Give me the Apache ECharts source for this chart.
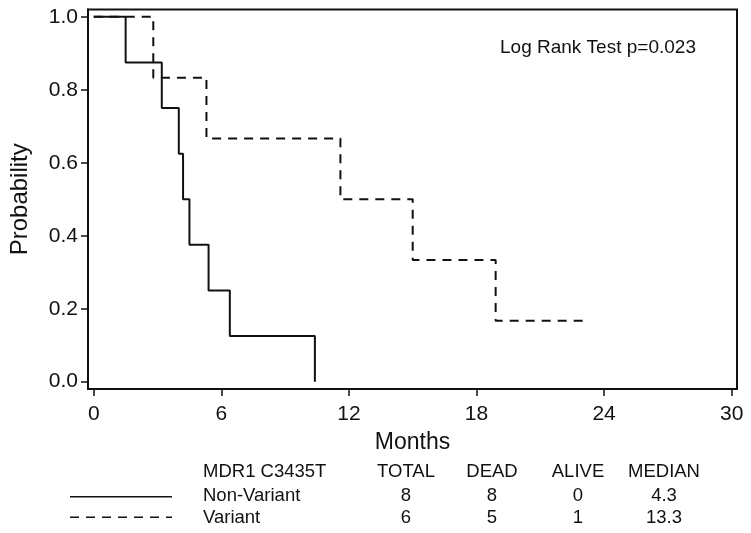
<!DOCTYPE html>
<html>
<head>
<meta charset="utf-8">
<script src="https://cdn.jsdelivr.net/npm/echarts@6/dist/echarts.min.js"></script>
<style>
html,body{margin:0;padding:0;background:#fff;}
#chart{width:751px;height:533px;}
</style>
</head>
<body>
<div id="chart"></div>
<script>
// ---- data ----
var nonVariantTimes = [0, 1.5, 3.2, 4.0, 4.2, 4.5, 5.4, 6.4, 10.4];
var nonVariantSurv  = [1, 0.875, 0.75, 0.625, 0.5, 0.375, 0.25, 0.125, 0];
var variantTimes = [0, 2.8, 5.3, 11.6, 15.0, 18.9, 23.0];
var variantSurv  = [1, 0.8333, 0.6667, 0.5, 0.3333, 0.1667, 0.1667];
var xTicks = [0, 6, 12, 18, 24, 30];
var yTicks = [0, 0.2, 0.4, 0.6, 0.8, 1.0];
var tableHeader = ['MDR1 C3435T', 'TOTAL', 'DEAD', 'ALIVE', 'MEDIAN'];
var groupNames = ['Non-Variant', 'Variant'];
var totals = [8, 6];
var deaths = [8, 5];
var alive = [0, 1];
var medians = ['4.3', '13.3'];
var pValueText = 'Log Rank Test p=0.023';

function pairs(t, s) { return t.map(function (v, i) { return [v, s[i]]; }); }

var FONT = '"Liberation Sans", Arial, Helvetica, sans-serif';
var INK = '#111';

// table layout
var colX = [203, 406, 492, 578, 664];
var rowY = [471.5, 495.5, 518];
var sampleX = [70, 172];
var sampleY = [496.7, 517.3];
var dashes = [null, [9, 7]];

var graphics = [];
tableHeader.forEach(function (h, c) {
  graphics.push({
    type: 'text', x: colX[c], y: rowY[0],
    style: { text: h, font: '18.5px ' + FONT, fill: INK,
      align: c === 0 ? 'left' : 'center', verticalAlign: 'middle' }
  });
});
groupNames.forEach(function (g, r) {
  var vals = [g, String(totals[r]), String(deaths[r]), String(alive[r]), medians[r]];
  vals.forEach(function (v, c) {
    graphics.push({
      type: 'text', x: colX[c], y: rowY[r + 1],
      style: { text: v, font: '18.5px ' + FONT, fill: INK,
        align: c === 0 ? 'left' : 'center', verticalAlign: 'middle' }
    });
  });
  graphics.push({
    type: 'line',
    shape: { x1: sampleX[0], y1: sampleY[r], x2: sampleX[1], y2: sampleY[r] },
    style: { stroke: INK, lineWidth: 1.5, lineDash: dashes[r] }
  });
});
graphics.push({
  type: 'text', x: 500, y: 47.5,
  style: { text: pValueText, font: '19px ' + FONT, fill: INK,
    align: 'left', verticalAlign: 'middle' }
});

var chart = echarts.init(document.getElementById('chart'), null, { renderer: 'canvas' });
chart.setOption({
  animation: false,
  backgroundColor: '#fff',
  grid: { left: 86, right: 14, top: 9.5, bottom: 144, show: true,
    borderColor: INK, borderWidth: 2, backgroundColor: 'transparent' },
  xAxis: {
    type: 'value', min: -0.27, max: 30.25,
    name: 'Months', nameLocation: 'middle', nameGap: 42,
    nameTextStyle: { fontFamily: FONT, fontSize: 23, color: INK },
    axisLine: { show: true, onZero: false, lineStyle: { color: INK, width: 2 } },
    axisTick: { show: true, inside: false, length: 7, customValues: xTicks,
      lineStyle: { color: INK, width: 1.5 } },
    axisLabel: { customValues: xTicks, margin: 15, fontFamily: FONT, fontSize: 21, color: INK },
    splitLine: { show: false }
  },
  yAxis: {
    type: 'value', min: -0.02, max: 1.02,
    name: 'Probability', nameLocation: 'middle', nameGap: 56, nameRotate: 90,
    nameTextStyle: { fontFamily: FONT, fontSize: 24, color: INK },
    axisLine: { show: true, onZero: false, lineStyle: { color: INK, width: 2 } },
    axisTick: { show: true, inside: false, length: 7, customValues: yTicks,
      lineStyle: { color: INK, width: 1.5 } },
    axisLabel: { customValues: yTicks, margin: 10, fontFamily: FONT, fontSize: 21, color: INK,
      formatter: function (v) { return v.toFixed(1); } },
    splitLine: { show: false }
  },
  series: [
    { name: 'Non-Variant', type: 'line', step: 'end', showSymbol: false, symbol: 'none',
      data: pairs(nonVariantTimes, nonVariantSurv),
      lineStyle: { color: INK, width: 2, type: 'solid' } },
    { name: 'Variant', type: 'line', step: 'end', showSymbol: false, symbol: 'none',
      data: pairs(variantTimes, variantSurv),
      lineStyle: { color: INK, width: 2, type: [9, 7] } }
  ],
  graphic: graphics
});
</script>
</body>
</html>
